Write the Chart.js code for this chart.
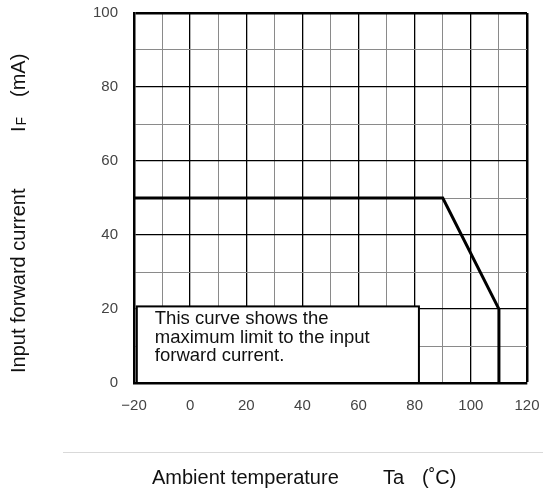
<!DOCTYPE html>
<html lang="en">
<head>
    <meta charset="UTF-8">
    <title>IF - Ta</title>
    <script src="https://cdn.jsdelivr.net/npm/chart.js"></script>
    <style>
        html, body { margin: 0; padding: 0; background: #fff; }
        #wrap { width: 543px; height: 492px; }
    </style>
</head>
<body>
    <div id="wrap"><canvas id="deratingChart"></canvas></div>

    <script>
        // Maximum input forward current vs ambient temperature
        const tempC = [-20, 90, 110, 110];
        const currentMA = [50, 50, 20, 0];

        // labelled ticks (grid every 10)
        const xTickLabels = [-20, 0, 20, 40, 60, 80, 100, 120];
        const yTickLabels = [0, 20, 40, 60, 80, 100];

        const noteLines = ['This curve shows the', 'maximum limit to the input', 'forward current.'];
        // note box corners in axis units
        const noteX = [-19, 81.5];
        const noteY = [0, 20.7];

        const FONT = '"Liberation Sans", Arial, sans-serif';

        const points = tempC.map((t, i) => ({ x: t, y: currentMA[i] }));

        function gridColor(ctx) {
            return ctx.tick && ctx.tick.value % 20 === 0 ? '#000' : '#8a8a8a';
        }

        const notePlugin = {
            id: 'noteBox',
            beforeDatasetsDraw(chart) {
                const c = chart.ctx, xs = chart.scales.x, ys = chart.scales.y;
                const l = xs.getPixelForValue(noteX[0]), r = xs.getPixelForValue(noteX[1]);
                const t = ys.getPixelForValue(noteY[1]), b = ys.getPixelForValue(noteY[0]);
                c.save();
                c.fillStyle = '#fff';
                c.fillRect(l, t, r - l, b - t);
                c.strokeStyle = '#000';
                c.lineWidth = 2;
                c.strokeRect(l, t, r - l, b - t);
                c.fillStyle = '#111';
                c.font = '18.5px ' + FONT;
                c.textBaseline = 'alphabetic';
                noteLines.forEach((s, i) => c.fillText(s, l + 18, t + 18 + i * 18.5));
                c.restore();
            }
        };

        const titlePlugin = {
            id: 'axisTitles',
            afterDraw(chart) {
                const c = chart.ctx;
                c.save();
                // separator line above the x title
                c.strokeStyle = '#d9d9d9';
                c.lineWidth = 1;
                c.beginPath();
                c.moveTo(63, 452.5);
                c.lineTo(543, 452.5);
                c.stroke();

                c.fillStyle = '#111';
                c.font = '20px ' + FONT;
                c.textBaseline = 'alphabetic';
                c.textAlign = 'left';
                c.fillText('Ambient temperature', 152, 483.5);
                c.fillText('Ta', 383, 483.5);
                c.fillText('(˚C)', 422, 483.5);

                // y title, rotated
                c.translate(25, 373);
                c.rotate(-Math.PI / 2);
                c.fillText('Input forward current', 0, 0);
                c.fillText('I', 241, 0);
                const iw = c.measureText('I').width;
                c.font = '14px ' + FONT;
                c.fillText('F', 241 + iw + 1, 1);
                c.font = '20px ' + FONT;
                c.fillText('(mA)', 276, 0);
                c.restore();
            }
        };

        new Chart(document.getElementById('deratingChart'), {
            type: 'line',
            data: {
                datasets: [{
                    data: points,
                    borderColor: '#000',
                    borderWidth: 3,
                    pointRadius: 0,
                    fill: false,
                    tension: 0
                }]
            },
            options: {
                responsive: true,
                maintainAspectRatio: false,
                animation: false,
                layout: { padding: { top: 13, right: 16, left: 0, bottom: 0 } },
                plugins: {
                    legend: { display: false },
                    tooltip: { enabled: false }
                },
                scales: {
                    x: {
                        type: 'linear',
                        min: -20,
                        max: 120,
                        afterFit(scale) {
                            scale.height = 109;
                            scale.paddingLeft = 0;
                            scale.paddingRight = 0;
                        },
                        ticks: {
                            stepSize: 10,
                            autoSkip: false,
                            maxRotation: 0,
                            padding: 14,
                            color: '#444',
                            font: { family: FONT, size: 15 },
                            callback: v => xTickLabels.includes(v) ? String(v).replace('-', '\u2212') : ''
                        },
                        grid: {
                            drawTicks: false,
                            color: gridColor,
                            lineWidth: ctx => (ctx.tick && (ctx.tick.value === 120)) ? 2.5 : (ctx.tick && ctx.tick.value % 20 === 0 ? 1.3 : 1)
                        },
                        border: { display: true, color: '#000', width: 2.5 }
                    },
                    y: {
                        type: 'linear',
                        min: 0,
                        max: 100,
                        afterFit(scale) {
                            scale.width = 134;
                            scale.paddingTop = 0;
                            scale.paddingBottom = 0;
                        },
                        ticks: {
                            stepSize: 10,
                            autoSkip: false,
                            padding: 16,
                            color: '#444',
                            font: { family: FONT, size: 15 },
                            callback: v => yTickLabels.includes(v) ? String(v) : ''
                        },
                        grid: {
                            drawTicks: false,
                            color: gridColor,
                            lineWidth: ctx => (ctx.tick && (ctx.tick.value === 100)) ? 2.5 : (ctx.tick && ctx.tick.value % 20 === 0 ? 1.3 : 1)
                        },
                        border: { display: true, color: '#000', width: 2.5 }
                    }
                }
            },
            plugins: [notePlugin, titlePlugin]
        });
    </script>
</body>
</html>
